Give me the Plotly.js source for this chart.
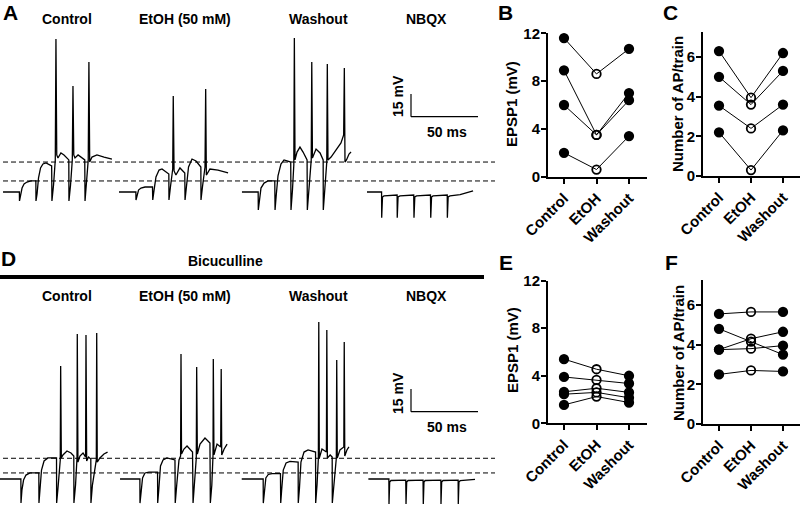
<!DOCTYPE html>
<html>
<head>
<meta charset="utf-8">
<script src="https://cdn.plot.ly/plotly-3.0.1.min.js"></script>
<style>html,body{margin:0;padding:0;background:#fff}#plot{width:800px;height:505px}</style>
</head>
<body>
<div id="plot"></div>
<script>
// ---------------- DATA ----------------
const conditions = ['Control', 'EtOH (50 mM)', 'Washout', 'NBQX'];
const groups = ['Control', 'EtOH', 'Washout'];

// Panel A traces (time in ms from first stimulus, membrane potential in mV)
const aControlT = [-12.3,-0.1,0,0.7,1.9,3.4,5.6,8.6,12.2,12.3,13.1,14.2,15.7,17.5,19.8,24.0,24.2,25.4,26.7,27.2,27.8,28.7,30.9,33.2,36.8,36.9,38.1,39.4,39.9,40.5,41.4,43.7,48.7,48.9,50.0,51.3,51.8,52.4,54.1,57.8,63.1,69.0];
const aControlV = [-70,-70,-75.9,-72.6,-67.4,-64.7,-63.4,-62.7,-62.7,-75.9,-71.3,-60.7,-54.1,-51.5,-50.8,-52.8,-75.9,-65.4,-48.8,31.1,-45.5,-47.5,-44.2,-45.5,-48.8,-75.9,-65.4,-48.8,0.1,-45.5,-47.5,-45.5,-48.8,-75.9,-65.4,-48.8,15.9,-50.2,-46.9,-45.5,-46.9,-48.2];
const aEtohT = [-12.7,-0.1,0,0.7,1.9,3.7,6.7,12.3,12.5,13.4,14.9,17.2,19.4,24.5,24.6,25.7,27.4,27.8,28.4,29.8,32.8,36.4,36.6,37.7,39.2,41.8,44.8,48.4,48.5,49.6,51.5,52.0,52.5,55.2,61.2,68.7];
const aEtohV = [-70,-70,-75.3,-72.6,-68.7,-67.4,-66.7,-66.7,-75.3,-69.3,-60.1,-55.5,-54.8,-58.1,-75.3,-66.7,-54.8,-6.5,-56.1,-58.8,-54.1,-57.4,-75.3,-66.0,-53.5,-48.2,-49.5,-53.5,-75.3,-66.7,-53.5,-1.9,-58.8,-54.8,-55.5,-57.4];
const aWashT = [-12.2,-0.1,0,0.9,2.0,4.3,7.2,12.3,12.5,13.4,14.7,16.9,19.2,24.2,24.4,25.5,26.5,26.9,27.4,28.9,31.1,33.4,36.4,36.6,37.7,39.5,39.9,40.4,43.1,46.1,48.4,48.5,49.6,51.1,51.5,52.0,54.3,58.0,61.7,63.7,64.2,64.7,65.8,67.7,69.2];
const aWashV = [-70,-70,-81.9,-74.0,-67.4,-64.1,-62.7,-62.7,-81.9,-72.0,-59.4,-51.5,-48.8,-50.2,-81.9,-68.7,-52.2,31.8,-48.8,-43.6,-40.3,-43.6,-48.8,-81.9,-68.7,-48.8,15.9,-47.5,-41.6,-44.2,-48.8,-81.9,-68.7,-50.2,14.6,-48.8,-46.9,-42.2,-37.6,-32.3,12.0,-50.2,-48.8,-44.9,-43.6];
const aNbqxT = [-11.0,-0.1,0,0.6,1.7,6.2,11.5,11.6,12.2,13.7,18.1,23.9,24.1,24.7,26.0,30.8,36.4,36.6,37.2,38.3,43.6,48.9,49.0,49.6,51.0,58.5,68.2];
const aNbqxV = [-70,-70,-87,-73.3,-72.6,-72.3,-72.0,-87,-73.3,-72.6,-72.3,-72.0,-87,-73.3,-72.6,-72.3,-72.0,-87,-73.3,-72.6,-72.3,-72.0,-87,-73.3,-72.6,-71.7,-69.3];

// Panel D traces (in bicuculline)
const dControlT = [-15.7,-0.1,0,0.7,1.9,3.7,6.7,13.3,13.4,14.2,15.3,17.2,20.1,26.5,26.6,27.6,29.3,29.6,30.1,31.3,34.3,37.3,39.4,39.5,40.7,41.8,42.0,42.5,44.0,46.3,48.2,48.5,49.0,50.4,52.1,52.2,53.3,56.2,56.5,56.9,58.9,61.9,64.6];
const dControlV = [-70,-70,-85.9,-77.3,-70.7,-67.4,-66.0,-66.0,-85.9,-77.3,-64.1,-58.1,-56.1,-56.1,-85.9,-76.0,-57.4,4.7,-56.1,-54.1,-51.5,-52.8,-54.8,-85.9,-74.0,-56.1,25.8,-58.8,-54.8,-52.8,-55.5,25.2,-58.1,-55.5,-56.8,-85.9,-74.0,-57.4,26.5,-58.8,-56.1,-53.5,-52.2];
const dEtohT = [-14.9,-0.1,0,0.7,1.9,3.7,6.7,13.1,13.2,14.0,15.3,17.2,20.1,26.1,26.3,27.4,29.1,30.3,30.6,31.0,32.8,35.1,39.2,39.6,40.7,42.0,42.3,42.8,44.8,48.5,52.2,52.5,53.6,54.5,54.7,55.2,57.5,60.2,60.6,61.0,62.8,65.0];
const dEtohV = [-70,-70,-85.9,-77.3,-69.3,-66.0,-65.4,-65.4,-85.9,-77.3,-61.4,-57.4,-56.1,-57.4,-85.9,-74.0,-57.4,-54.8,12.6,-53.5,-50.2,-48.2,-52.2,-85.9,-74.0,-56.1,4.0,-53.5,-46.9,-42.9,-46.2,-85.9,-74.0,-54.1,9.3,-54.1,-46.9,-48.8,2.7,-54.1,-50.2,-46.9];
const dWashT = [-16.1,-0.1,0,0.7,1.9,3.7,6.5,12.8,13.0,13.7,14.9,17.0,19.9,26.0,26.1,27.0,28.1,30.4,33.4,39.0,39.1,40.1,41.1,41.4,41.8,43.8,47.1,47.4,47.8,49.9,51.4,51.5,52.6,54.5,54.8,55.2,57.2,60.1,60.4,60.8,62.4,63.9];
const dWashV = [-70,-70,-85.9,-77.3,-69.3,-67.0,-66.4,-66.4,-85.9,-77.3,-64.1,-59.4,-58.4,-58.8,-85.9,-76.0,-58.8,-52.2,-50.8,-52.2,-85.9,-74.0,-56.1,33.8,-56.1,-50.2,-52.2,28.5,-56.1,-54.1,-55.5,-85.9,-74.0,-56.1,8.7,-56.1,-50.8,-48.8,20.6,-54.8,-50.8,-48.8];
const dNbqxT = [-15.4,-0.1,0,0.5,1.5,12.5,12.7,13.2,14.2,25.4,25.6,26.1,27.0,38.7,38.8,39.3,40.3,51.6,51.7,52.2,53.2,64.2];
const dNbqxV = [-70,-70,-86.5,-72.0,-71.0,-70.7,-86.5,-72.0,-71.0,-70.7,-86.5,-72.0,-71.0,-70.7,-86.5,-72.0,-71.0,-70.7,-86.5,-72.0,-71.0,-70.3];

// Dashed reference levels (mV)
const levelsA = [-50.2, -62.7];
const levelsD = [-56.3, -66.0];
// Scale bar values
const scaleMV = 15, scaleMS = 50;

// Panel B: EPSP1 (mV)
const bControl = [11.6, 8.9, 6.0, 2.0];
const bEtoh    = [8.6, 3.5, 3.5, 0.6];
const bWash    = [10.7, 7.0, 6.4, 3.4];
// Panel C: Number of AP/train
const cControl = [6.3, 5.0, 3.55, 2.2];
const cEtoh    = [3.95, 3.6, 2.4, 0.3];
const cWash    = [6.2, 5.3, 3.6, 2.3];
// Panel E: EPSP1 (mV), bicuculline
const eControl = [5.4, 3.9, 2.65, 2.45, 1.55];
const eEtoh    = [4.55, 3.65, 2.95, 2.6, 2.25];
const eWash    = [4.0, 3.35, 2.6, 2.15, 1.75];
// Panel F: Number of AP/train, bicuculline
const fControl = [5.55, 4.8, 3.75, 3.75, 2.5];
const fEtoh    = [5.65, 4.15, 4.3, 3.8, 2.7];
const fWash    = [5.65, 3.5, 4.65, 3.95, 2.65];

// ---------------- LAYOUT HELPERS ----------------
const W = 800, H = 505;
const PX_PER_MS = 1.34, PX_PER_MV = 1.513;
const fx = px => px / W;
const fy = py => 1 - py / H;
const FONT = 'Liberation Sans, Arial, Helvetica, sans-serif';
const ms = px => px / PX_PER_MS;

const offA = [19.5, 136, 258.3, 381.7].map(ms);
const offD = [21, 140, 263.3, 389].map(ms);

const traces = [];
function addTrace(t, v, off, xa, ya) {
  traces.push({x: t.map(d => d + off), y: v, xaxis: xa, yaxis: ya, mode: 'lines',
    line: {color: '#000', width: 1.3}, hoverinfo: 'skip'});
}
[[aControlT,aControlV],[aEtohT,aEtohV],[aWashT,aWashV],[aNbqxT,aNbqxV]].forEach((p,i)=>addTrace(p[0],p[1],offA[i],'x','y'));
[[dControlT,dControlV],[dEtohT,dEtohV],[dWashT,dWashV],[dNbqxT,dNbqxV]].forEach((p,i)=>addTrace(p[0],p[1],offD[i],'x2','y2'));

function addPairs(ctrl, etoh, wash, xa, ya) {
  for (let i = 0; i < ctrl.length; i++) {
    traces.push({x: [0,1,2], y: [ctrl[i], etoh[i], wash[i]], xaxis: xa, yaxis: ya,
      mode: 'lines+markers', cliponaxis: false, hoverinfo: 'skip',
      line: {color: '#000', width: 1},
      marker: {size: 8.5, color: '#000', symbol: ['circle','circle-open','circle'],
               line: {color: '#000', width: 1.8}}});
  }
}
addPairs(bControl, bEtoh, bWash, 'x3', 'y3');
addPairs(cControl, cEtoh, cWash, 'x4', 'y4');
addPairs(eControl, eEtoh, eWash, 'x5', 'y5');
addPairs(fControl, fEtoh, fWash, 'x6', 'y6');

const tickFont = {family: FONT, size: 15, color: '#000', weight: 'bold'};
function catAxis(px0, px1, c0, step, anchor) {
  return {domain: [fx(px0), fx(px1)], range: [(px0 - c0)/step, (px1 - c0)/step], anchor,
    tickvals: [0,1,2], ticktext: groups, tickangle: -45, ticks: 'outside', ticklen: 5,
    tickwidth: 2, tickcolor: '#000', showline: true, linewidth: 2, linecolor: '#000',
    showgrid: false, zeroline: false, tickfont: tickFont, fixedrange: true};
}
function valAxis(py0, py1, range, tickvals, anchor) {
  return {domain: [fy(py1), fy(py0)], range, anchor, tickvals, ticks: 'outside', ticklen: 5,
    tickwidth: 2, tickcolor: '#000', showline: true, linewidth: 2, linecolor: '#000',
    ticklabelstandoff: -2,
    showgrid: false, zeroline: false, tickfont: tickFont, fixedrange: true};
}
const hidden = (domain, range, anchor) => ({domain, range, anchor, visible: false, fixedrange: true});

const baseA = 192, baseD = 479;
const layout = {
  width: W, height: H, margin: {l:0, r:0, t:0, b:0},
  paper_bgcolor: '#fff', plot_bgcolor: 'rgba(0,0,0,0)', showlegend: false,
  xaxis:  hidden([0, fx(500)], [0, ms(500)], 'y'),
  yaxis:  hidden([fy(230), 1], [-70 - (230-baseA)/PX_PER_MV, -70 + baseA/PX_PER_MV], 'x'),
  xaxis2: hidden([0, fx(500)], [0, ms(500)], 'y2'),
  yaxis2: hidden([0, fy(280)], [-70 - (H-baseD)/PX_PER_MV, -70 + (baseD-280)/PX_PER_MV], 'x2'),
  xaxis3: catAxis(548, 647, 564, 32.5, 'y3'),
  yaxis3: valAxis(33.3, 176.7, [0, 12], [0,4,8,12], 'x3'),
  xaxis4: catAxis(703, 800, 719, 32, 'y4'),
  yaxis4: valAxis(32, 176, [0, 7.26], [0,2,4,6], 'x4'),
  xaxis5: catAxis(548, 647, 564, 32.5, 'y5'),
  yaxis5: valAxis(280.7, 423.3, [0, 12], [0,4,8,12], 'x5'),
  xaxis6: catAxis(703, 800, 719, 32, 'y6'),
  yaxis6: valAxis(280, 424, [0, 7.26], [0,2,4,6], 'x6'),
  shapes: [], annotations: []
};

// dashed reference lines
levelsA.forEach(l => layout.shapes.push({type:'line', xref:'paper', yref:'y', x0:fx(3), x1:fx(495), y0:l, y1:l, line:{color:'#000', width:1, dash:'5px,3px'}}));
levelsD.forEach(l => layout.shapes.push({type:'line', xref:'paper', yref:'y2', x0:fx(3), x1:fx(495), y0:l, y1:l, line:{color:'#000', width:1, dash:'5px,3px'}}));

// scale bars
function scaleBar(xa, ya, base, barPy) {
  const x0 = ms(411), y0 = -70 + (base - barPy)/PX_PER_MV;
  layout.shapes.push({type:'line', xref:xa, yref:ya, x0, x1:x0, y0, y1:y0+scaleMV, line:{color:'#000', width:1.2}});
  layout.shapes.push({type:'line', xref:xa, yref:ya, x0, x1:x0+scaleMS, y0, y1:y0, line:{color:'#000', width:1.2}});
}
scaleBar('x', 'y', baseA, 116.7);
scaleBar('x2', 'y2', baseD, 411.7);

// bicuculline bar
layout.shapes.push({type:'rect', xref:'paper', yref:'paper', x0:0, x1:fx(484), y0:fy(279), y1:fy(275), fillcolor:'#000', line:{width:0}});

function ann(text, px, py, size, angle) {
  layout.annotations.push({text, x: fx(px), y: fy(py), xref:'paper', yref:'paper', showarrow:false,
    xanchor:'center', yanchor:'middle', textangle: angle || 0,
    font:{family: FONT, size, color:'#000', weight:'bold'}});
}
// condition labels
const labelX = [67, 185, 318, 426];
conditions.forEach((c,i) => { ann(c, labelX[i], 19, 14); ann(c, labelX[i], 296, 14); });
ann('Bicuculline', 225, 261, 14);
ann('15 mV', 398, 96, 14, -90);
ann('50 ms', 447, 132, 14);
ann('15 mV', 398, 393, 14, -90);
ann('50 ms', 447, 427, 14);
// panel letters
ann('A', 10, 12, 21); ann('B', 505, 12, 21); ann('C', 670, 12, 21);
ann('D', 8, 258, 21); ann('E', 506, 262, 21); ann('F', 671, 262, 21);
// axis titles
ann('EPSP1 (mV)', 512, 104, 15, -90);
ann('Number of AP/train', 678, 104, 15, -90);
ann('EPSP1 (mV)', 512, 350, 15, -90);
ann('Number of AP/train', 678, 353, 15, -90);

Plotly.newPlot('plot', traces, layout, {staticPlot: true, displayModeBar: false});
</script>
</body>
</html>
